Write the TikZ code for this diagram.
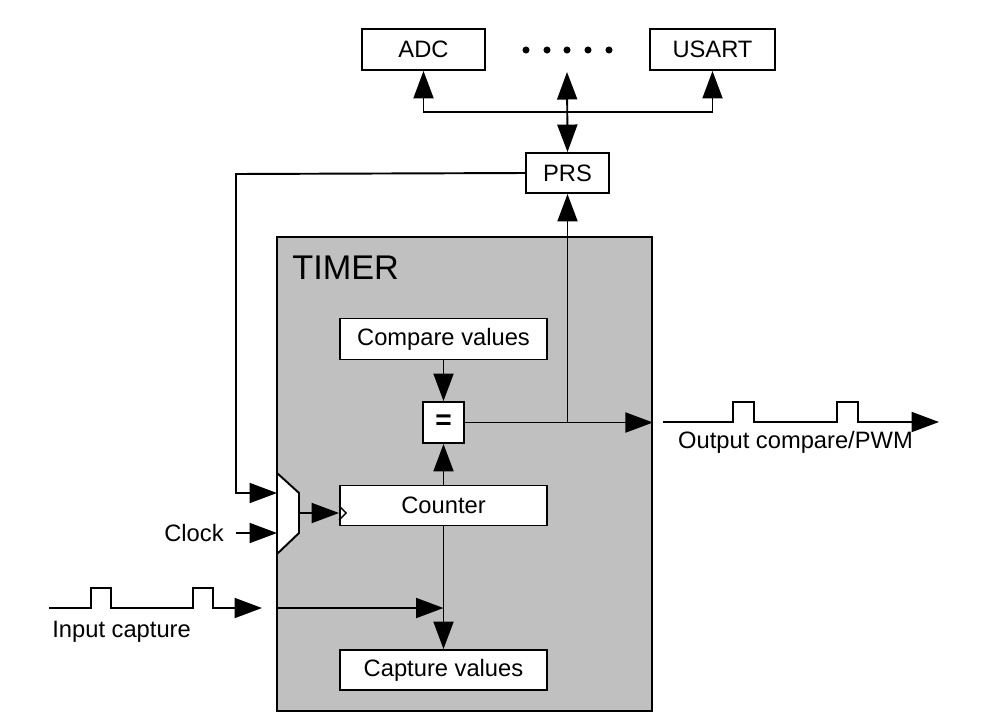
\documentclass[tikz,border=0pt]{standalone}
\usepackage{fontspec}
\setmainfont{Liberation Sans}
\usetikzlibrary{positioning, arrows.meta, calc}

\definecolor{timergray}{RGB}{192,192,192}

\tikzset{
  blk/.style={draw, fill=white, line width=1.1pt, inner sep=0pt,
    minimum height=0.82cm, font=\fontsize{13.5}{16}\selectfont},
  wide/.style={blk, minimum width=4.14cm},
  wire/.style={line width=1.1pt},
  sig/.style={wire, -{Triangle[length=0.55cm, width=0.4cm]}},
  bisig/.style={wire, {Triangle[length=0.55cm, width=0.4cm]}-{Triangle[length=0.55cm, width=0.4cm]}},
  lbl/.style={font=\fontsize{13.5}{16}\selectfont, inner sep=0pt},
}

\begin{document}
\begin{tikzpicture}[x=0.02cm, y=-0.02cm]
\useasboundingbox (0,0) rectangle (983,727);

% --- Peripherals ---
\node[blk, minimum width=2.46cm] (adc) at (423.5, 49.5) {ADC};
\node[blk, minimum width=2.5cm] (usart) at (712.5, 49.5) {USART};
\foreach \x in {526, 547, 567, 588, 609} {
  \fill (\x, 50) circle (2pt);
}
\coordinate (dots) at (567, 72);
\coordinate (bus) at (567, 112);

% --- PRS ---
\node[blk, minimum width=1.66cm, minimum height=0.8cm] (prs) at (567.5, 173) {PRS};

% --- Bus arrows ---
\draw[bisig] (prs.north) -- (dots);
\draw[sig] (bus) -| (adc.south);
\draw[sig] (bus) -| (usart.south);

% --- Timer block ---
\node[draw, fill=timergray, line width=1.1pt, inner sep=0pt,
  minimum width=7.5cm, minimum height=9.48cm] (timer) at (464.5, 474) {};
\node[anchor=base west, inner sep=0pt, font=\fontsize{19.5}{22}\selectfont]
  (timerlbl) at (292, 279) {TIMER};

\node[wide] (cmpval) at (443.5, 339) {Compare values};
\node[blk, minimum width=0.82cm, font=\fontsize{16}{18}\selectfont\bfseries]
  (eq) at (443.5, 422.5) {=};
\node[wide, minimum height=0.8cm] (counter) at (443.5, 505.5) {Counter};
\node[wide, minimum height=0.8cm] (capval) at (443.5, 670) {Capture values};

% --- Clock select mux ---
\draw[wire, fill=white] (277, 473) -- (299, 493) -- (299, 533) -- (277, 554) -- cycle;
\coordinate (muxin1) at (277, 493);
\coordinate (muxin2) at (277, 533);
\coordinate (muxout) at (299, 513);
\coordinate (fb) at (236, 174);
\coordinate (clkin) at (236, 533);

% PRS event into mux
\draw[sig] (prs.west) -- (fb) |- (muxin1);

% Clock into mux
\node[lbl, anchor=east] (clk) at (224, 533) {Clock};
\draw[sig] (clkin) -- (muxin2);

% mux to counter clock input
\draw[sig] (muxout) -- (muxout -| counter.west);
\draw[line width=0.8pt] ($(muxout -| counter.west)+(0,-7)$) -- ++(7,7) -- ++(-7,7);

% --- Compare path ---
\draw[sig] (cmpval.south) -- (eq.north);
\draw[sig] (counter.north) -- (eq.south);
\draw[sig] (eq.east) -- (eq.east -| timer.east);
\draw[sig] (prs.south |- eq.east) -- (prs.south);

% Output waveform
\coordinate (outend) at (939, 422);
\draw[sig] (663, 422) -- (733, 422) -- (733, 402) -- (754, 402) -- (754, 422)
  -- (837, 422) -- (837, 402) -- (858, 402) -- (858, 422) -- (outend);
\node[lbl] (outlbl) at (795.5, 442) {Output compare/PWM};

% --- Capture path ---
\coordinate (inend) at (262, 608);
\draw[sig] (49, 608) -- (91, 608) -- (91, 588) -- (111, 588) -- (111, 608)
  -- (193, 608) -- (193, 588) -- (213, 588) -- (213, 608) -- (inend);
\node[lbl, anchor=base west] (inlbl) at (52, 637) {Input capture};
\draw[sig] (timer.west |- inend) -- (counter.south |- inend);
\draw[sig] (counter.south) -- (capval.north);

\end{tikzpicture}
\end{document}
